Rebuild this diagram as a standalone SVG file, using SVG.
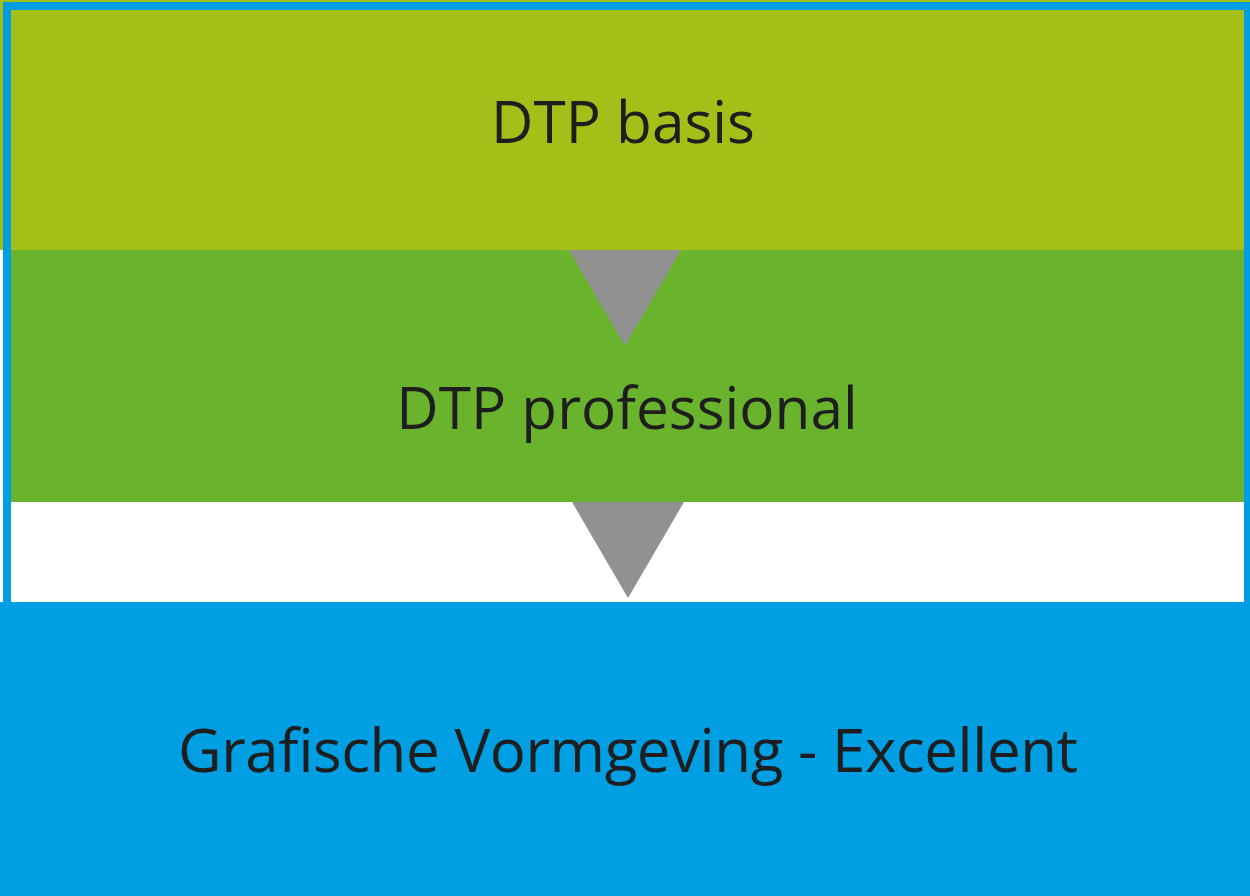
<svg xmlns="http://www.w3.org/2000/svg" width="1250" height="896" viewBox="0 0 1250 896">
<style>
.lbl{font-family:"Open Sans","Noto Sans","Liberation Sans",sans-serif;fill:#1e1e1e;text-anchor:middle}
.arrow{fill:#919191}
</style>
<rect x="0" y="0" width="1250" height="896" fill="#ffffff"/>
<g id="node-dtp-basis">
<rect x="0" y="0" width="1250" height="250" fill="#a4bf18"/>
<text class="lbl" x="623" y="143" font-size="58.5">DTP basis</text>
</g>
<g id="node-dtp-professional">
<rect x="7" y="250" width="1241" height="252" fill="#6ab42d"/>
<text class="lbl" x="627" y="429" font-size="58.5">DTP professional</text>
</g>
<g id="frame">
<rect x="7" y="6" width="1241" height="600" fill="none" stroke="#009fe3" stroke-width="8"/>
</g>
<g id="node-grafische">
<rect x="0" y="602" width="1250" height="294" fill="#009fe3"/>
<text class="lbl" x="628" y="772" font-size="60" textLength="900" lengthAdjust="spacing">Grafische Vormgeving - Excellent</text>
</g>
<g id="connectors">
<polygon class="arrow" points="569,250 681,250 625,346"/>
<polygon class="arrow" points="572,502 684,502 628,598"/>
</g>
</svg>
